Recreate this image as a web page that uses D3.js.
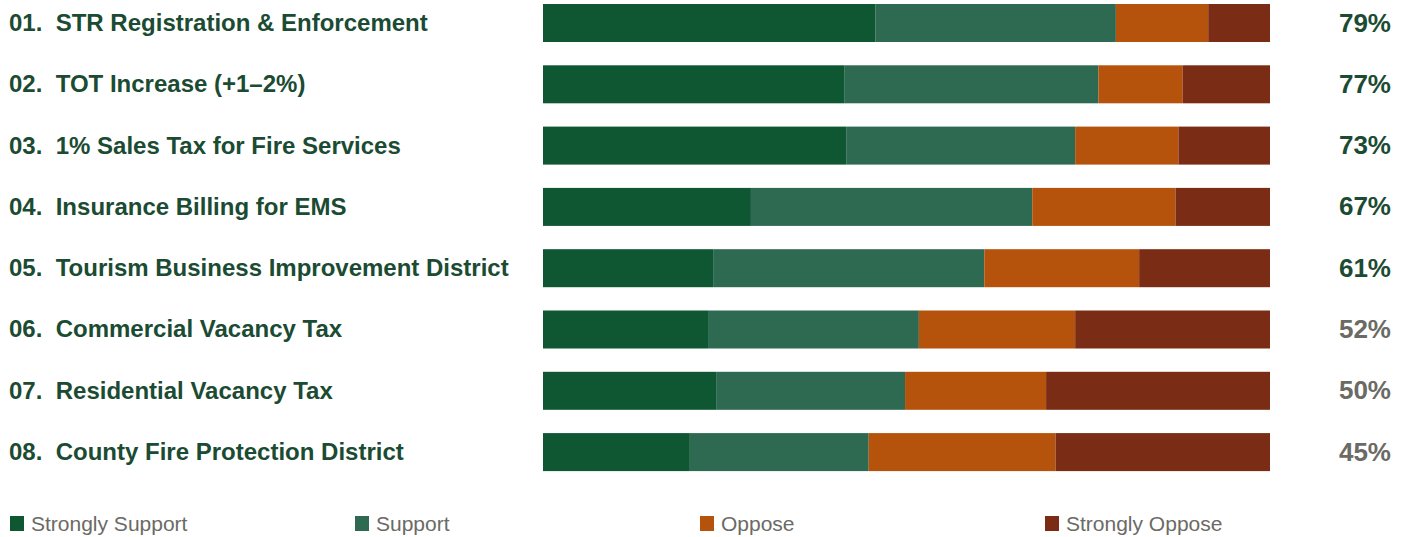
<!DOCTYPE html>
<html lang="en">
<head>
<meta charset="UTF-8" />
<title>Support by measure</title>
<script src="https://d3js.org/d3.v7.min.js"></script>
<style>
  body { margin: 0; background: #fff; }
  svg { display: block; font-family: "Liberation Sans", Arial, sans-serif; }
</style>
</head>
<body>
<div class="chart"></div>
<script>
  const measures = [
    "01.  STR Registration & Enforcement",
    "02.  TOT Increase (+1\u20132%)",
    "03.  1% Sales Tax for Fire Services",
    "04.  Insurance Billing for EMS",
    "05.  Tourism Business Improvement District",
    "06.  Commercial Vacancy Tax",
    "07.  Residential Vacancy Tax",
    "08.  County Fire Protection District"
  ];
  const strongSupport = [45.7, 41.5, 41.7, 28.6, 23.4, 22.7, 23.9, 20.2];
  const support       = [33.1, 34.9, 31.5, 38.7, 37.3, 29.0, 25.9, 24.6];
  const oppose        = [12.7, 11.6, 14.2, 19.7, 21.3, 21.5, 19.4, 25.7];
  const strongOppose  = [ 8.5, 12.0, 12.6, 13.0, 18.0, 26.8, 30.8, 29.5];
  const totals        = ["79%", "77%", "73%", "67%", "61%", "52%", "50%", "45%"];
  const seriesNames = ["Strongly Support", "Support", "Oppose", "Strongly Oppose"];
  const colors = ["#0f5632", "#2e6a51", "#b5530c", "#7b2c15"];

  const width = 1408, height = 537;
  const svg = d3.select(".chart").append("svg")
    .attr("width", width)
    .attr("height", height);

  const rows = measures.map((m, i) => ({
    measure: m,
    "Strongly Support": strongSupport[i],
    "Support": support[i],
    "Oppose": oppose[i],
    "Strongly Oppose": strongOppose[i],
    total: totals[i],
    idx: i
  }));

  const layers = d3.stack().keys(seriesNames)(rows);

  let x = d3.scaleLinear().domain([0, 100]).range([543, 1270]);
  let y = d3.scaleBand().domain(measures).range([-7.65, 482.75]).paddingInner(0.38).paddingOuter(0.19);

  svg.append("g")
    .selectAll("g")
    .data(layers)
    .join("g")
    .attr("fill", (d, i) => colors[i])
    .selectAll("rect")
    .data(d => d)
    .join("rect")
    .attr("x", d => x(d[0]))
    .attr("y", d => y(d.data.measure))
    .attr("width", d => x(Math.min(d[1], 100)) - x(d[0]))
    .attr("height", y.bandwidth());

  // measure names
  svg.append("g")
    .selectAll("text")
    .data(rows)
    .join("text")
    .attr("x", 9)
    .attr("y", d => y(d.measure) + y.bandwidth() / 2)
    .attr("dy", "0.33em")
    .attr("font-size", 24)
    .attr("font-weight", "bold")
    .attr("fill", "#1b4b32")
    .style("white-space", "pre")
    .text(d => d.measure);

  // combined support
  svg.append("g")
    .selectAll("text")
    .data(rows)
    .join("text")
    .attr("x", 1391)
    .attr("y", d => y(d.measure) + y.bandwidth() / 2)
    .attr("dy", "0.33em")
    .attr("text-anchor", "end")
    .attr("font-size", 26)
    .attr("font-weight", "bold")
    .attr("fill", d => d.idx < 5 ? "#1b4b32" : "#6b6a65")
    .text(d => d.total);

  // legend
  const legend = svg.append("g")
    .selectAll("g")
    .data(seriesNames)
    .join("g")
    .attr("transform", (d, i) => `translate(${10 + i * 345}, 523.5)`);
  legend.append("rect")
    .attr("x", 0)
    .attr("y", -7.5)
    .attr("width", 14)
    .attr("height", 15)
    .attr("fill", (d, i) => colors[i]);
  legend.append("text")
    .attr("x", 21)
    .attr("dy", "0.35em")
    .attr("font-size", 21)
    .attr("fill", "#6b6a65")
    .text(d => d);
</script>
</body>
</html>
